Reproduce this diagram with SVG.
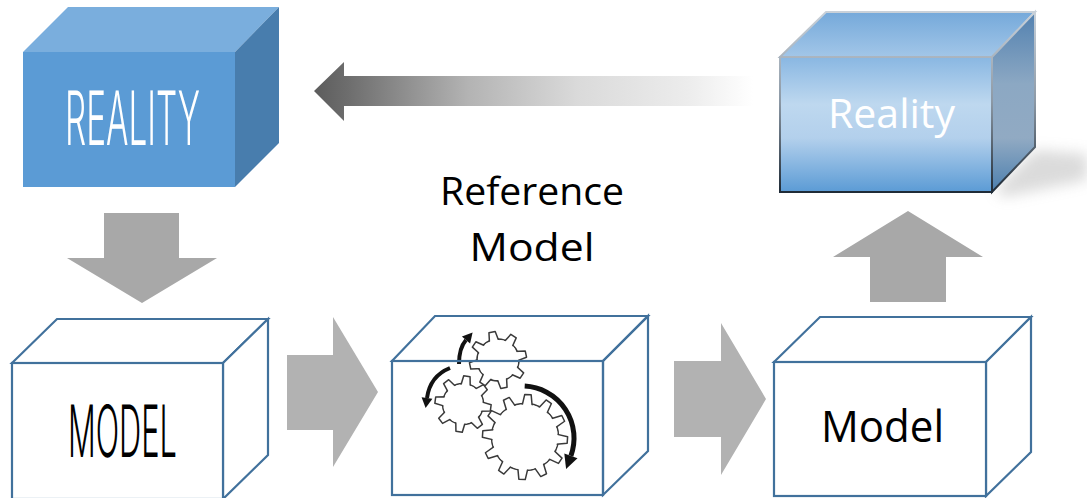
<svg xmlns="http://www.w3.org/2000/svg" xmlns:xlink="http://www.w3.org/1999/xlink" width="1087" height="498" viewBox="0 0 1087 498">
<style>
.outline{fill:#fff;stroke:#41719c;stroke-width:2.2;stroke-linejoin:miter}
.edges{fill:none;stroke:#41719c;stroke-width:2.2}
.gear{fill:#fff;stroke:#3a3a3a;stroke-width:1.5;stroke-linejoin:round}
.garrow{fill:none;stroke:#111;stroke-linecap:butt}
.head{fill:#111}
.hand{font-family:Inter,Roboto,"DejaVu Sans",sans-serif;font-weight:300}
.cal{font-family:"Open Sans","Noto Sans",sans-serif}
</style>
<defs>
<linearGradient id="bigArrowGrad" x1="314" y1="0" x2="753" y2="0" gradientUnits="userSpaceOnUse">
<stop offset="0" stop-color="#5c5c5c"/>
<stop offset="0.08" stop-color="#6e6e6e"/>
<stop offset="0.35" stop-color="#b3b3b3"/>
<stop offset="0.6" stop-color="#dadada"/>
<stop offset="0.85" stop-color="#ececec"/>
<stop offset="1" stop-color="#ffffff"/>
</linearGradient>
<linearGradient id="frontGrad" x1="0" y1="0" x2="0" y2="1">
<stop offset="0" stop-color="#89b7e2"/>
<stop offset="0.35" stop-color="#bed8ef"/>
<stop offset="0.6" stop-color="#b3d0ec"/>
<stop offset="1" stop-color="#5b9bd5"/>
</linearGradient>
<linearGradient id="topGrad" x1="0" y1="0" x2="0" y2="1">
<stop offset="0" stop-color="#75a9da"/>
<stop offset="1" stop-color="#a2c6e8"/>
</linearGradient>
<linearGradient id="rightGrad" x1="0" y1="0" x2="0" y2="1">
<stop offset="0" stop-color="#5281b0"/>
<stop offset="0.4" stop-color="#8ca8c3"/>
<stop offset="0.7" stop-color="#91aac3"/>
<stop offset="1" stop-color="#4c7fae"/>
</linearGradient>
<linearGradient id="strokeGrad" x1="0" y1="12" x2="0" y2="192" gradientUnits="userSpaceOnUse">
<stop offset="0" stop-color="#c9d1d9"/>
<stop offset="0.5" stop-color="#8b98a5"/>
<stop offset="1" stop-color="#1f2b37"/>
</linearGradient>
<filter id="blur" x="-50%" y="-50%" width="200%" height="200%">
<feGaussianBlur stdDeviation="7"/>
</filter>
<polygon id="t1" class="gear" points="-5,-17 -3.2,-28.5 3.2,-28.5 5,-17"/>
<polygon id="t2" class="gear" points="-5,-16.5 -3.2,-28 3.2,-28 5,-16.5"/>
<polygon id="t3" class="gear" points="-5.4,-29 -3.2,-42.5 3.2,-42.5 5.4,-29"/>
</defs>

<g id="connectors">
<polygon id="arrow-back" points="314,91 344,62 344,76 753,76 753,106 344,106 344,121" fill="url(#bigArrowGrad)"/>
<polygon id="arrow-down" points="104,213 179,213 179,258 217,258 142,303 67,258 104,258" fill="#a8a8a8"/>
<polygon id="arrow-right1" points="287,355 333,355 333,317 378,392 333,467 333,430 287,430" fill="#b2b2b2"/>
<polygon id="arrow-right2" points="674,361 721,361 721,323 766,399 721,475 721,437 674,437" fill="#b2b2b2"/>
<polygon id="arrow-up" points="870,302 946,302 946,257 983,257 908,211 833,257 870,257" fill="#a8a8a8"/>
</g>

<g id="reality-left">
<polygon points="23,52 68,7 279,7 235,52" fill="#7aaedd"/>
<polygon points="235,52 279,7 279,143 235,187" fill="#487dad"/>
<rect x="23" y="52" width="212" height="135" fill="#5b9bd5"/>
<text class="hand" x="65" y="145" fill="#fff" font-size="75" textLength="135" lengthAdjust="spacingAndGlyphs" text-rendering="geometricPrecision">REALITY</text>
</g>

<g id="reality-right">
<polygon points="995,190 1035,150 1087,154 1087,180 1004,197" fill="#999" opacity="0.35" filter="url(#blur)"/>
<polygon points="780,57 826,12 1035,12 992,57" fill="url(#topGrad)" stroke="url(#strokeGrad)" stroke-width="2"/>
<polygon points="992,57 1035,12 1035,147 992,192" fill="url(#rightGrad)" stroke="url(#strokeGrad)" stroke-width="2"/>
<rect x="780" y="57" width="212" height="135" fill="url(#frontGrad)" stroke="url(#strokeGrad)" stroke-width="2"/>
<text class="cal" x="828" y="128" font-size="40" fill="#fff" textLength="127" lengthAdjust="spacingAndGlyphs">Reality</text>
</g>

<g id="reference-label">
<text class="cal" x="532" y="205" font-size="39" fill="#000" text-anchor="middle" textLength="184" lengthAdjust="spacingAndGlyphs">Reference</text>
<text class="cal" x="532" y="261" font-size="39" fill="#000" text-anchor="middle" textLength="125" lengthAdjust="spacingAndGlyphs">Model</text>
</g>

<g id="model-left">
<polygon class="outline" points="12,363 57,319 268,319 223,363"/>
<polygon class="outline" points="223,363 268,319 268,455 223,499"/>
<rect class="outline" x="12" y="363" width="211" height="136"/>
<text class="hand" x="68" y="457" fill="#000" font-size="72" textLength="109" lengthAdjust="spacingAndGlyphs" text-rendering="geometricPrecision">MODEL</text>
</g>

<g id="reference-model">
<polygon points="392,361 435,316 648,316 603,361" fill="#fff"/>
<polygon points="603,361 648,316 648,451 603,495" fill="#fff"/>
<rect x="392" y="361" width="211" height="134" fill="#fff"/>
<g id="gear-left" transform="translate(463,404) rotate(8)">
<circle r="20.5" class="gear"/>
<use xlink:href="#t2"/><use xlink:href="#t2" transform="rotate(45)"/><use xlink:href="#t2" transform="rotate(90)"/><use xlink:href="#t2" transform="rotate(135)"/><use xlink:href="#t2" transform="rotate(180)"/><use xlink:href="#t2" transform="rotate(225)"/><use xlink:href="#t2" transform="rotate(270)"/><use xlink:href="#t2" transform="rotate(315)"/>
<circle r="19.6" fill="#fff"/>
</g>
<g id="gear-top" transform="translate(498,360) rotate(-12)">
<circle r="21" class="gear"/>
<use xlink:href="#t1"/><use xlink:href="#t1" transform="rotate(45)"/><use xlink:href="#t1" transform="rotate(90)"/><use xlink:href="#t1" transform="rotate(135)"/><use xlink:href="#t1" transform="rotate(180)"/><use xlink:href="#t1" transform="rotate(225)"/><use xlink:href="#t1" transform="rotate(270)"/><use xlink:href="#t1" transform="rotate(315)"/>
<circle r="20.1" fill="#fff"/>
</g>
<g id="gear-big" transform="translate(525,437) rotate(4)">
<circle r="33.5" class="gear"/>
<use xlink:href="#t3"/><use xlink:href="#t3" transform="rotate(30)"/><use xlink:href="#t3" transform="rotate(60)"/><use xlink:href="#t3" transform="rotate(90)"/><use xlink:href="#t3" transform="rotate(120)"/><use xlink:href="#t3" transform="rotate(150)"/><use xlink:href="#t3" transform="rotate(180)"/><use xlink:href="#t3" transform="rotate(210)"/><use xlink:href="#t3" transform="rotate(240)"/><use xlink:href="#t3" transform="rotate(270)"/><use xlink:href="#t3" transform="rotate(300)"/><use xlink:href="#t3" transform="rotate(330)"/>
<circle r="32.6" fill="#fff"/>
</g>
<path class="garrow" d="M459,364 Q459,348 466,340" stroke-width="4"/>
<polygon class="head" points="472.6,332.5 470.1,343.6 461.9,336.4"/>
<path class="garrow" d="M450,368 Q430,376 427,398" stroke-width="4"/>
<polygon class="head" points="425.6,408 432.4,398.7 421.6,397.3"/>
<path class="garrow" d="M524.7,386.1 A52,52 0 0 1 570.9,455.8" stroke-width="5"/>
<polygon class="head" points="566.1,469 577.5,458.2 564.3,453.4"/>
<polygon class="edges" points="392,361 435,316 648,316 603,361"/>
<polygon class="edges" points="603,361 648,316 648,451 603,495"/>
<rect class="edges" x="392" y="361" width="211" height="134"/>
</g>

<g id="model-right">
<polygon class="outline" points="774,362 820,317 1031,317 986,362"/>
<polygon class="outline" points="986,362 1031,317 1031,452 986,496"/>
<rect class="outline" x="774" y="362" width="212" height="134"/>
<text class="cal" x="821" y="442" font-size="43" fill="#000" textLength="123" lengthAdjust="spacingAndGlyphs">Model</text>
</g>
</svg>
